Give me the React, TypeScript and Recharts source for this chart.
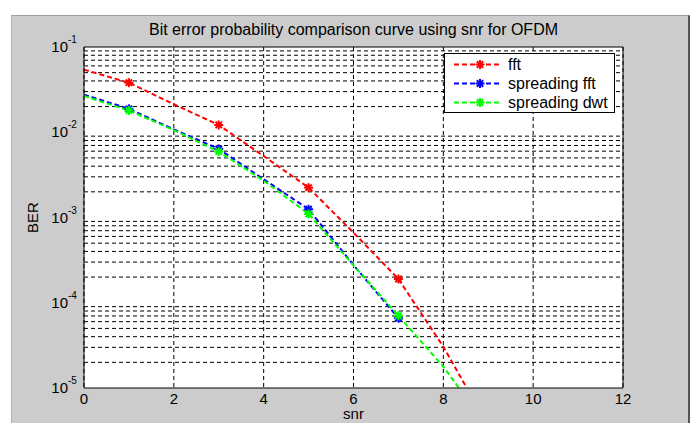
import React from 'react';
import { LineChart, Line, XAxis, YAxis, CartesianGrid, ReferenceLine } from 'recharts';

const snr = [0, 1, 2, 3, 4, 5, 6, 7, 8, 8.5];
const fftBer = [0.0542, 0.0381, 0.0213, 0.01217, 0.00526, 0.00224, 6.64e-4, 1.9e-4, 3.05e-5, 1.05e-5];
const spreadingFftBer = [0.0276, 0.0188, 0.0108, 0.00637, 0.00281, 0.00125, 2.77e-4, 6.6e-5, null, null];
const spreadingDwtBer = [0.0266, 0.018, 0.0106, 0.00592, 0.0027, 0.0011, 2.75e-4, 7.05e-5, 1.78e-5, 7.8e-6];

const xTicks = [0, 2, 4, 6, 8, 10, 12];
const yTicks = [1e-5, 1e-4, 1e-3, 1e-2, 1e-1];
const minorY: number[] = [];
[1e-5, 1e-4, 1e-3, 1e-2].forEach((d) => {
  for (let k = 2; k <= 9; k++) minorY.push(d * k);
});

const series = [
  { key: 'fft', name: 'fft', color: '#ff0000' },
  { key: 'sfft', name: 'spreading fft', color: '#0000ff' },
  { key: 'sdwt', name: 'spreading dwt', color: '#00ff00' },
];

const data = snr.map((s, i) => ({
  snr: s,
  fft: fftBer[i],
  sfft: spreadingFftBer[i],
  sdwt: spreadingDwtBer[i],
}));

const FONT = '"Liberation Sans", Arial, sans-serif';

const Star = ({ cx, cy, color }: { cx: number; cy: number; color: string }) => {
  const r = 4.5;
  const lines = [0, 45, 90, 135].map((a) => {
    const rad = (a * Math.PI) / 180;
    return (
      <line
        key={a}
        x1={cx - r * Math.cos(rad)}
        y1={cy - r * Math.sin(rad)}
        x2={cx + r * Math.cos(rad)}
        y2={cy + r * Math.sin(rad)}
        stroke={color}
        strokeWidth={2}
      />
    );
  });
  return <g>{lines}</g>;
};

const makeDot = (color: string) => (props: any) => {
  const { cx, cy, payload, index } = props;
  if (payload && payload.snr % 2 === 1 && cx != null && cy != null) {
    return <Star key={`d${index}`} cx={cx} cy={cy} color={color} />;
  }
  return <g key={`d${index}`} />;
};

const YTick = (props: any) => {
  const { x, y, payload } = props;
  const exp = Math.round(Math.log10(payload.value));
  return (
    <g fontFamily={FONT}>
      <text x={x - 16} y={y + 5} textAnchor="end" fontSize={15} fill="#000">10</text>
      <text x={x - 16} y={y - 4} textAnchor="start" fontSize={10} fill="#000">{String(exp)}</text>
    </g>
  );
};

const BerLabel = (props: any) => {
  const vb = props.viewBox || {};
  const cx = (vb.x || 0) + 32;
  const cy = (vb.y || 0) + (vb.height || 0) / 2;
  return (
    <text x={cx} y={cy} transform={`rotate(-90 ${cx} ${cy})`} textAnchor="middle" dominantBaseline="central" fontSize={15} fontFamily={FONT} fill="#000">
      BER
    </text>
  );
};

const SnrLabel = (props: any) => {
  const vb = props.viewBox || {};
  const cx = (vb.x || 0) + (vb.width || 0) / 2;
  const by = (vb.y || 0) + 31;
  return (
    <text x={cx} y={by} textAnchor="middle" fontSize={15} fontFamily={FONT} fill="#000">
      snr
    </text>
  );
};

export default function App() {
  return (
    <div style={{ position: 'absolute', left: 0, top: 0, width: 694, height: 423, background: '#fff', overflow: 'hidden' }}>
      <div
        style={{
          position: 'absolute',
          left: 11,
          top: 15,
          width: 676,
          height: 410,
          background: '#cccccc',
          borderTop: '1px solid #a0a0a0',
          borderLeft: '1px solid #b0b0b0',
          borderRight: '2px solid #555',
        }}
      />
      <div
        style={{
          position: 'absolute',
          left: 84,
          width: 539,
          top: 20,
          textAlign: 'center',
          fontFamily: FONT,
          fontSize: 16,
          lineHeight: '20px',
          color: '#000',
        }}
      >
        Bit error probability comparison curve using snr for OFDM
      </div>
      <div style={{ position: 'absolute', left: 0, top: 0 }}>
        <LineChart width={694} height={423} data={data} margin={{ top: 47, right: 71, bottom: 0, left: 0 }}>
          <CartesianGrid
            horizontal={false}
            vertical={true}
            stroke="#000"
            strokeDasharray="4 3"
            fill="#ffffff"
            fillOpacity={1}
          />
          {minorY.map((v) => (
            <ReferenceLine key={`m${v}`} y={v} stroke="#000" strokeDasharray="4 3" strokeWidth={1} />
          ))}
          <XAxis
            dataKey="snr"
            type="number"
            domain={[0, 12]}
            ticks={xTicks}
            height={35}
            tickLine={false}
            tickSize={0}
            tickMargin={5}
            axisLine={{ stroke: '#000', strokeWidth: 1 }}
            tick={{ fill: '#000', fontSize: 15, fontFamily: FONT }}
            allowDataOverflow
            label={<SnrLabel />}
          />
          <YAxis
            scale="log"
            domain={[1e-5, 1e-1]}
            ticks={yTicks}
            allowDataOverflow
            width={84}
            tickLine={false}
            tickSize={0}
            tickMargin={0}
            axisLine={{ stroke: '#000', strokeWidth: 1 }}
            tick={<YTick />}
            label={<BerLabel />}
          />
          <ReferenceLine y={1e-1} stroke="#000" strokeWidth={1} />
          <ReferenceLine x={12} stroke="#000" strokeWidth={1} />
          {series.map((s) => (
            <Line
              key={s.key}
              dataKey={s.key}
              name={s.name}
              stroke={s.color}
              strokeWidth={2}
              strokeDasharray="5 3"
              dot={makeDot(s.color)}
              activeDot={false}
              isAnimationActive={false}
              connectNulls={false}
              type="linear"
            />
          ))}
        </LineChart>
      </div>
      <div
        style={{
          position: 'absolute',
          left: 444,
          top: 53,
          width: 169,
          height: 58,
          background: '#fff',
          border: '1px solid #000',
          fontFamily: FONT,
          fontSize: 16,
          color: '#000',
        }}
      >
        {series.map((s, i) => (
          <div key={s.key} style={{ position: 'absolute', left: 0, top: 1 + i * 19, height: 19, width: 169 }}>
            <svg width={60} height={19} style={{ position: 'absolute', left: 8, top: 0 }}>
              <line x1={1} y1={9.5} x2={48} y2={9.5} stroke={s.color} strokeWidth={2} strokeDasharray="5 3" />
              <Star cx={27} cy={9.5} color={s.color} />
            </svg>
            <span style={{ position: 'absolute', left: 63, top: 0, lineHeight: '19px', whiteSpace: 'nowrap' }}>{s.name}</span>
          </div>
        ))}
      </div>
    </div>
  );
}
